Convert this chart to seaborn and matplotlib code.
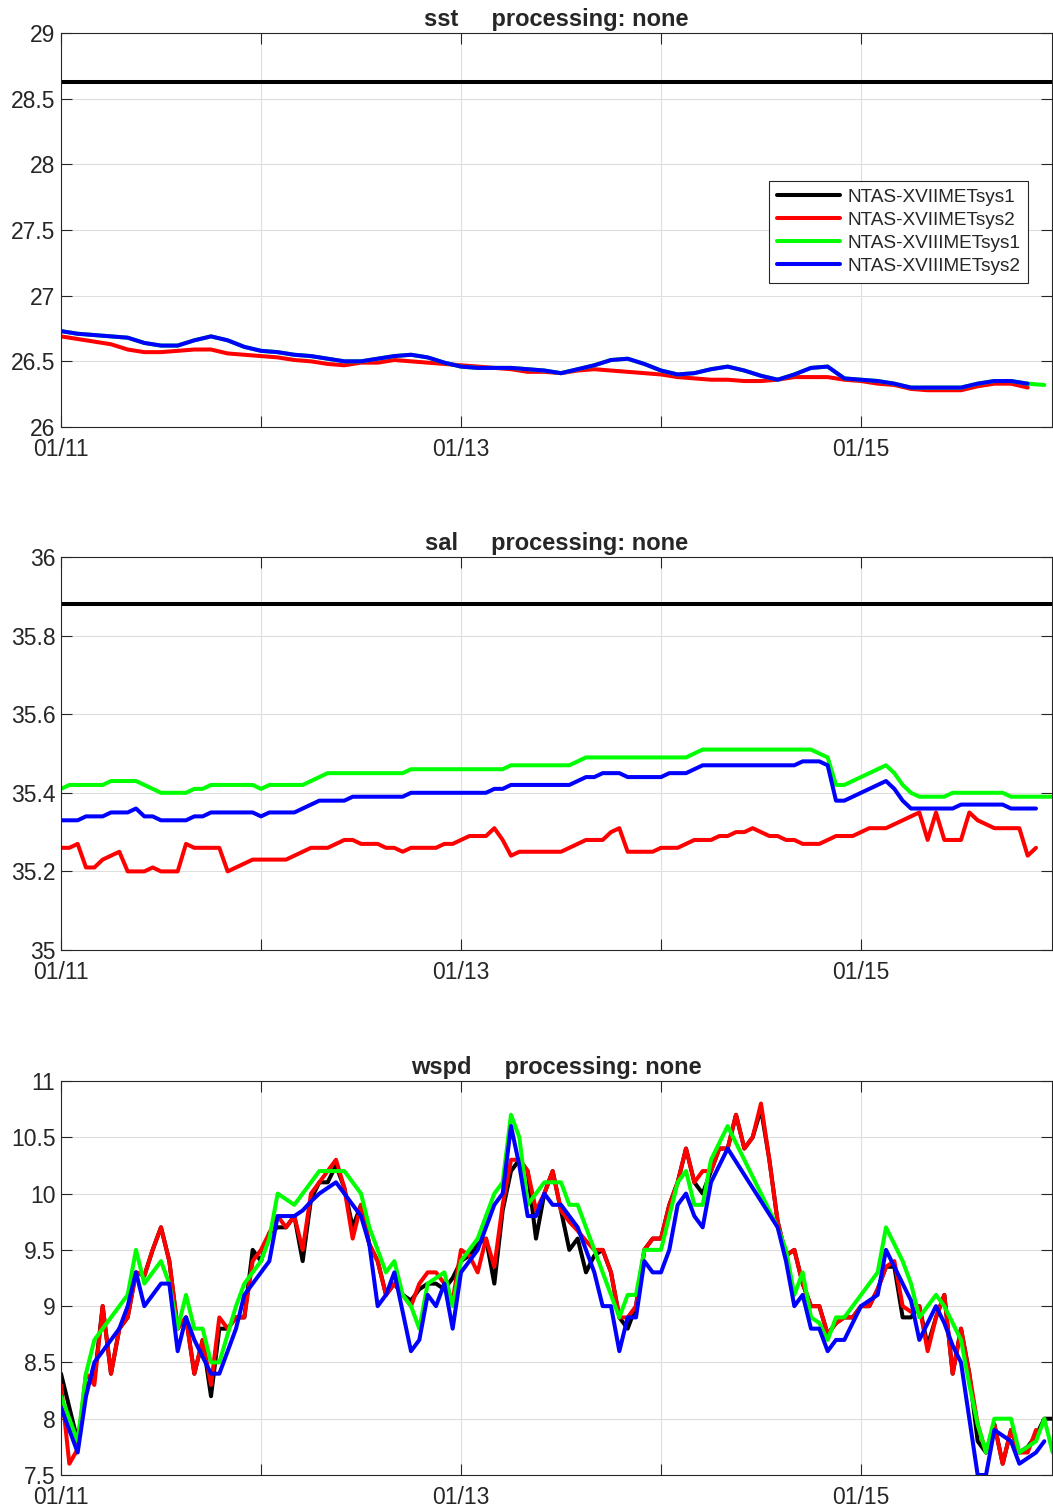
import numpy as np
import pandas as pd
import matplotlib
matplotlib.use("Agg")
import matplotlib.pyplot as plt
from matplotlib.ticker import FuncFormatter
import seaborn as sns

# ---------------------------------------------------------------- data
start = pd.Timestamp("2019-01-11")
hours = np.arange(120)              # hourly samples from 01/11 00:00
sst_hours = np.arange(0, 120, 2)    # SST series (2-hourly)

systems = ["NTAS-XVIIMETsys1", "NTAS-XVIIMETsys2",
           "NTAS-XVIIIMETsys1", "NTAS-XVIIIMETsys2"]
colors = ["#000000", "#ff0000", "#00ff00", "#0000ff"]

nan = np.nan

# --- sea surface temperature (degC)
sst_xvii_sys1 = 28.63   # constant reading from XVII system 1
sst_xvii_sys2 = [
    26.69, 26.67, 26.65, 26.63, 26.59, 26.57, 26.57, 26.58, 26.59, 26.59,
    26.56, 26.55, 26.54, 26.53, 26.51, 26.50, 26.48, 26.47, 26.49, 26.49,
    26.51, 26.50, 26.49, 26.48, 26.47, 26.46, 26.45, 26.44, 26.42, 26.42,
    26.41, 26.43, 26.44, 26.43, 26.42, 26.41, 26.40, 26.38, 26.37, 26.36,
    26.36, 26.35, 26.35, 26.36, 26.38, 26.38, 26.38, 26.36, 26.35, 26.33,
    26.32, 26.29, 26.28, 26.28, 26.28, 26.31, 26.33, 26.33, 26.30, nan]
sst_xviii_sys1 = [
    26.73, 26.71, 26.70, 26.69, 26.68, 26.64, 26.62, 26.62, 26.66, 26.69,
    26.66, 26.61, 26.58, 26.57, 26.55, 26.54, 26.52, 26.50, 26.50, 26.52,
    26.54, 26.55, 26.53, 26.49, 26.46, 26.45, 26.45, 26.45, 26.44, 26.43,
    26.41, 26.44, 26.47, 26.51, 26.52, 26.48, 26.43, 26.40, 26.41, 26.44,
    26.46, 26.43, 26.39, 26.36, 26.40, 26.45, 26.46, 26.37, 26.36, 26.35,
    26.33, 26.30, 26.30, 26.30, 26.30, 26.33, 26.35, 26.35, 26.33, 26.32]
sst_xviii_sys2 = [
    26.73, 26.71, 26.70, 26.69, 26.68, 26.64, 26.62, 26.62, 26.66, 26.69,
    26.66, 26.61, 26.58, 26.57, 26.55, 26.54, 26.52, 26.50, 26.50, 26.52,
    26.54, 26.55, 26.53, 26.49, 26.46, 26.45, 26.45, 26.45, 26.44, 26.43,
    26.41, 26.44, 26.47, 26.51, 26.52, 26.48, 26.43, 26.40, 26.41, 26.44,
    26.46, 26.43, 26.39, 26.36, 26.40, 26.45, 26.46, 26.37, 26.36, 26.35,
    26.33, 26.30, 26.30, 26.30, 26.30, 26.33, 26.35, 26.35, 26.33, nan]

# --- salinity (psu)
sal_xvii_sys1 = 35.88   # constant reading from XVII system 1
sal_xvii_sys2 = [
    35.26, 35.26, 35.27, 35.21, 35.21, 35.23, 35.24, 35.25, 35.20, 35.20,
    35.20, 35.21, 35.20, 35.20, 35.20, 35.27, 35.26, 35.26, 35.26, 35.26,
    35.20, 35.21, 35.22, 35.23, 35.23, 35.23, 35.23, 35.23, 35.24, 35.25,
    35.26, 35.26, 35.26, 35.27, 35.28, 35.28, 35.27, 35.27, 35.27, 35.26,
    35.26, 35.25, 35.26, 35.26, 35.26, 35.26, 35.27, 35.27, 35.28, 35.29,
    35.29, 35.29, 35.31, 35.28, 35.24, 35.25, 35.25, 35.25, 35.25, 35.25,
    35.25, 35.26, 35.27, 35.28, 35.28, 35.28, 35.30, 35.31, 35.25, 35.25,
    35.25, 35.25, 35.26, 35.26, 35.26, 35.27, 35.28, 35.28, 35.28, 35.29,
    35.29, 35.30, 35.30, 35.31, 35.30, 35.29, 35.29, 35.28, 35.28, 35.27,
    35.27, 35.27, 35.28, 35.29, 35.29, 35.29, 35.30, 35.31, 35.31, 35.31,
    35.32, 35.33, 35.34, 35.35, 35.28, 35.35, 35.28, 35.28, 35.28, 35.35,
    35.33, 35.32, 35.31, 35.31, 35.31, 35.31, 35.24, 35.26, nan, nan]
sal_xviii_sys1 = [
    35.41, 35.42, 35.42, 35.42, 35.42, 35.42, 35.43, 35.43, 35.43, 35.43,
    35.42, 35.41, 35.40, 35.40, 35.40, 35.40, 35.41, 35.41, 35.42, 35.42,
    35.42, 35.42, 35.42, 35.42, 35.41, 35.42, 35.42, 35.42, 35.42, 35.42,
    35.43, 35.44, 35.45, 35.45, 35.45, 35.45, 35.45, 35.45, 35.45, 35.45,
    35.45, 35.45, 35.46, 35.46, 35.46, 35.46, 35.46, 35.46, 35.46, 35.46,
    35.46, 35.46, 35.46, 35.46, 35.47, 35.47, 35.47, 35.47, 35.47, 35.47,
    35.47, 35.47, 35.48, 35.49, 35.49, 35.49, 35.49, 35.49, 35.49, 35.49,
    35.49, 35.49, 35.49, 35.49, 35.49, 35.49, 35.50, 35.51, 35.51, 35.51,
    35.51, 35.51, 35.51, 35.51, 35.51, 35.51, 35.51, 35.51, 35.51, 35.51,
    35.51, 35.50, 35.49, 35.42, 35.42, 35.43, 35.44, 35.45, 35.46, 35.47,
    35.45, 35.42, 35.40, 35.39, 35.39, 35.39, 35.39, 35.40, 35.40, 35.40,
    35.40, 35.40, 35.40, 35.40, 35.39, 35.39, 35.39, 35.39, 35.39, 35.39]
sal_xviii_sys2 = [
    35.33, 35.33, 35.33, 35.34, 35.34, 35.34, 35.35, 35.35, 35.35, 35.36,
    35.34, 35.34, 35.33, 35.33, 35.33, 35.33, 35.34, 35.34, 35.35, 35.35,
    35.35, 35.35, 35.35, 35.35, 35.34, 35.35, 35.35, 35.35, 35.35, 35.36,
    35.37, 35.38, 35.38, 35.38, 35.38, 35.39, 35.39, 35.39, 35.39, 35.39,
    35.39, 35.39, 35.40, 35.40, 35.40, 35.40, 35.40, 35.40, 35.40, 35.40,
    35.40, 35.40, 35.41, 35.41, 35.42, 35.42, 35.42, 35.42, 35.42, 35.42,
    35.42, 35.42, 35.43, 35.44, 35.44, 35.45, 35.45, 35.45, 35.44, 35.44,
    35.44, 35.44, 35.44, 35.45, 35.45, 35.45, 35.46, 35.47, 35.47, 35.47,
    35.47, 35.47, 35.47, 35.47, 35.47, 35.47, 35.47, 35.47, 35.47, 35.48,
    35.48, 35.48, 35.47, 35.38, 35.38, 35.39, 35.40, 35.41, 35.42, 35.43,
    35.41, 35.38, 35.36, 35.36, 35.36, 35.36, 35.36, 35.36, 35.37, 35.37,
    35.37, 35.37, 35.37, 35.37, 35.36, 35.36, 35.36, 35.36, nan, nan]

# --- wind speed (m/s)
wspd_xvii_sys1 = [
    8.4, 8.1, 7.8, 8.3, 8.35, 9.0, 8.4, 8.8, 8.9, 9.3,
    9.27, 9.5, 9.7, 9.4, 8.8, 8.9, 8.4, 8.7, 8.2, 8.8,
    8.8, 8.9, 8.9, 9.5, 9.4, 9.65, 9.7, 9.7, 9.8, 9.4,
    9.95, 10.1, 10.1, 10.25, 10.05, 9.7, 9.9, 9.55, 9.4, 9.1,
    9.2, 9.1, 9.05, 9.15, 9.2, 9.2, 9.15, 9.25, 9.4, 9.45,
    9.55, 9.6, 9.2, 9.85, 10.2, 10.3, 10.2, 9.6, 10.0, 10.2,
    9.85, 9.5, 9.6, 9.3, 9.45, 9.5, 9.3, 8.9, 8.8, 9.0,
    9.5, 9.6, 9.6, 9.9, 10.1, 10.4, 10.1, 10.0, 10.2, 10.4,
    10.4, 10.7, 10.4, 10.5, 10.75, 10.3, 9.75, 9.45, 9.5, 9.2,
    9.0, 9.0, 8.75, 8.85, 8.9, 8.9, 9.0, 9.0, 9.15, 9.35,
    9.35, 8.9, 8.9, 9.0, 8.65, 8.9, 9.1, 8.4, 8.8, 8.4,
    7.8, 7.7, 7.95, 7.6, 7.9, 7.7, 7.75, 7.85, 8.0, 8.0]
wspd_xvii_sys2 = [
    8.3, 7.6, 7.73, 8.4, 8.3, 9.0, 8.4, 8.8, 8.9, 9.3,
    9.27, 9.5, 9.7, 9.4, 8.8, 8.9, 8.4, 8.7, 8.3, 8.9,
    8.8, 8.9, 8.9, 9.4, 9.5, 9.65, 9.8, 9.7, 9.8, 9.5,
    10.0, 10.1, 10.2, 10.3, 10.05, 9.6, 9.9, 9.55, 9.4, 9.1,
    9.2, 9.1, 9.0, 9.2, 9.3, 9.3, 9.2, 9.05, 9.5, 9.45,
    9.3, 9.6, 9.35, 9.9, 10.3, 10.3, 10.2, 9.85, 10.0, 10.2,
    9.85, 9.75, 9.67, 9.58, 9.5, 9.5, 9.3, 8.9, 8.9, 9.0,
    9.5, 9.6, 9.6, 9.9, 10.1, 10.4, 10.1, 10.2, 10.2, 10.4,
    10.4, 10.7, 10.4, 10.5, 10.8, 10.3, 9.75, 9.45, 9.5, 9.2,
    9.0, 9.0, 8.75, 8.85, 8.9, 8.9, 9.0, 9.0, 9.15, 9.35,
    9.4, 9.0, 8.95, 9.0, 8.6, 8.9, 9.1, 8.4, 8.8, 8.4,
    7.95, 7.7, 7.95, 7.6, 7.9, 7.7, 7.7, 7.9, nan, nan]
wspd_xviii_sys1 = [
    8.2, 8.0, 7.8, 8.4, 8.7, 8.8, 8.9, 9.0, 9.1, 9.5,
    9.2, 9.3, 9.4, 9.2, 8.8, 9.1, 8.8, 8.8, 8.5, 8.5,
    8.75, 9.0, 9.2, 9.3, 9.4, 9.6, 10.0, 9.95, 9.9, 10.0,
    10.1, 10.2, 10.2, 10.2, 10.2, 10.1, 10.0, 9.7, 9.5, 9.3,
    9.4, 9.1, 9.0, 8.8, 9.2, 9.25, 9.3, 9.0, 9.4, 9.5,
    9.6, 9.8, 10.0, 10.1, 10.7, 10.5, 9.9, 10.0, 10.1, 10.1,
    10.1, 9.9, 9.9, 9.7, 9.5, 9.3, 9.1, 8.9, 9.1, 9.1,
    9.5, 9.5, 9.5, 9.8, 10.1, 10.2, 9.9, 9.9, 10.3, 10.45,
    10.6, nan, nan, nan, nan, nan, 9.7, 9.5, 9.1, 9.3,
    8.9, 8.85, 8.7, 8.9, 8.9, 9.0, 9.1, 9.2, 9.3, 9.7,
    9.55, 9.4, 9.2, 8.9, 9.0, 9.1, 9.0, 8.85, 8.7, 8.3,
    7.95, 7.7, 8.0, 8.0, 8.0, 7.7, 7.75, 7.8, 8.0, 7.7]
wspd_xviii_sys2 = [
    8.1, 7.9, 7.7, 8.2, 8.5, 8.6, 8.7, 8.8, 9.0, 9.3,
    9.0, 9.1, 9.2, 9.2, 8.6, 8.9, 8.7, 8.55, 8.4, 8.4,
    8.6, 8.8, 9.1, 9.2, 9.3, 9.4, 9.8, 9.8, 9.8, 9.85,
    9.93, 10.0, 10.05, 10.1, 10.0, 9.9, 9.8, 9.55, 9.0, 9.1,
    9.3, 8.95, 8.6, 8.7, 9.1, 9.0, 9.2, 8.8, 9.3, 9.4,
    9.5, 9.7, 9.9, 10.0, 10.6, 10.25, 9.8, 9.8, 10.0, 9.9,
    9.9, 9.8, 9.7, 9.5, 9.3, 9.0, 9.0, 8.6, 8.9, 8.9,
    9.4, 9.3, 9.3, 9.5, 9.9, 10.0, 9.8, 9.7, 10.1, 10.25,
    10.4, nan, nan, nan, nan, nan, 9.7, 9.4, 9.0, 9.1,
    8.8, 8.8, 8.6, 8.7, 8.7, 8.85, 9.0, 9.05, 9.1, 9.5,
    9.35, 9.2, 9.05, 8.7, 8.85, 9.0, 8.85, 8.65, 8.5, 8.0,
    7.5, 7.5, 7.9, 7.85, 7.8, 7.6, 7.65, 7.7, 7.8, nan]

day_ticks = ["01/11", "01/12", "01/13", "01/14", "01/15"]
day_labels = ["01/11", "", "01/13", "", "01/15"]


def long_frame(series):
    """Stack (hours, values) pairs for each system into one long table."""
    parts = []
    for name, (hrs, vals) in zip(systems, series):
        vals = np.asarray(vals, dtype=float)
        if vals.ndim == 0:
            vals = np.full(len(hrs), float(vals))
        parts.append(pd.DataFrame({
            "time": start + pd.to_timedelta(hrs, unit="h"),
            "value": vals,
            "system": name,
        }).dropna())
    return pd.concat(parts, ignore_index=True)


panels = [
    ("sst", (26, 29), np.arange(26, 29.01, 0.5), [
        (hours, sst_xvii_sys1), (sst_hours, sst_xvii_sys2),
        (sst_hours, sst_xviii_sys1), (sst_hours, sst_xviii_sys2)]),
    ("sal", (35, 36), np.arange(35, 36.01, 0.2), [
        (hours, sal_xvii_sys1), (hours, sal_xvii_sys2),
        (hours, sal_xviii_sys1), (hours, sal_xviii_sys2)]),
    ("wspd", (7.5, 11), np.arange(7.5, 11.01, 0.5), [
        (hours, wspd_xvii_sys1), (hours, wspd_xvii_sys2),
        (hours, wspd_xviii_sys1), (hours, wspd_xviii_sys2)]),
]

# ---------------------------------------------------------------- style
sns.set_theme(style="whitegrid", rc={
    "grid.color": "#dedede",
    "grid.linewidth": 0.8,
    "axes.edgecolor": "#262626",
    "axes.linewidth": 0.8,
})
plt.rcParams["font.family"] = ["Liberation Sans", "DejaVu Sans"]

W, H = 1053, 1509
fig = plt.figure(figsize=(W / 100, H / 100), dpi=100)
palette = dict(zip(systems, colors))

# axes boxes in pixels: (left, top, right, bottom)
boxes = [(61, 33, 1052, 427), (61, 557, 1052, 950), (61, 1081, 1052, 1475)]

x_end = start + pd.Timedelta(hours=118.92)
tick_times = [pd.Timestamp("2019-" + d.replace("/", "-")) for d in day_ticks]

for i, ((var, ylim, yticks, series), box) in enumerate(zip(panels, boxes)):
    l, t, r, b = box
    ax = fig.add_axes([l / W, (H - b) / H, (r - l) / W, (b - t) / H])
    df = long_frame(series)
    sns.lineplot(data=df, x="time", y="value", hue="system",
                 hue_order=systems, palette=palette, linewidth=2.9,
                 estimator=None, sort=False, ax=ax, legend=(i == 0))

    ax.set_xlim(start, x_end)
    ax.set_ylim(*ylim)
    ax.set_yticks(yticks)
    ax.yaxis.set_major_formatter(FuncFormatter(lambda v, p: f"{v:g}"))
    ax.set_xticks(tick_times)
    ax.set_xticklabels(day_labels)
    ax.set_xlabel("")
    ax.set_ylabel("")
    ax.tick_params(direction="in", length=8, width=0.8, colors="#262626",
                   labelsize=16.5,
                   bottom=True, top=True, left=True, right=True)
    ax.tick_params(axis="x", pad=8)
    ax.tick_params(axis="y", pad=4)
    ax.grid(True, color="#dedede", linewidth=0.8)
    for sp in ax.spines.values():
        sp.set_visible(True)
        sp.set_color("#262626")
        sp.set_linewidth(0.8)
    ax.set_title(f"{var}     processing: none", fontsize=17,
                 fontweight="bold", pad=5)

    if i == 0:
        handles, labels = ax.get_legend_handles_labels()
        leg = ax.legend(handles, labels, loc="upper right",
                        bbox_to_anchor=(0.976, 0.625), frameon=True,
                        fancybox=False, framealpha=1, edgecolor="#262626",
                        fontsize=13.7, handlelength=3.3, handletextpad=0.4,
                        labelspacing=0.3, borderpad=0.42,
                        borderaxespad=0.0)
        leg.get_frame().set_linewidth(0.8)

fig.savefig("out.png", dpi=100)
